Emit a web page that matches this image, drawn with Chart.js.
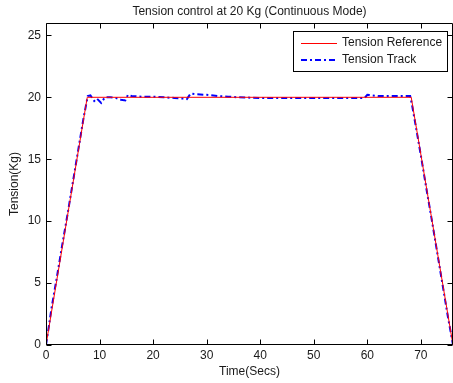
<!DOCTYPE html>
<html>
<head>
<meta charset="utf-8">
<script src="https://cdn.jsdelivr.net/npm/chart.js@4/dist/chart.umd.min.js"></script>
<style>
html,body{margin:0;padding:0;background:#fff;}
#c{display:block;}
</style>
</head>
<body>
<canvas id="c" width="453" height="383"></canvas>
<script>
const chartTitle = 'Tension control at 20 Kg (Continuous Mode)';
const xLabel = 'Time(Secs)';
const yLabel = 'Tension(Kg)';
const seriesNames = ['Tension Reference', 'Tension Track'];

const tRef = [0, 7.7, 68.2, 76];
const yRef = [0, 20, 20, 0];

const tTrack = [0, 0.5, 1, 2, 3, 4, 5, 6, 7, 7.8, 8.3, 9, 9.5, 10.3, 11, 12, 13, 14, 14.8, 15.3, 16, 18, 20, 22, 24, 25.5, 26.3, 27, 28, 30, 32, 34, 36, 40, 45, 50, 55, 59.5, 60, 62, 65, 68, 68.3, 69, 70, 71, 72, 73, 74, 75, 76];
const yTrack = [0, 1.4, 2.9, 5.4, 8.0, 10.5, 13.1, 15.7, 18.3, 20.1, 20.15, 19.7, 19.9, 19.55, 20.0, 20.0, 19.95, 19.8, 19.75, 20.2, 20.1, 20.05, 20.05, 20.0, 19.95, 19.9, 19.85, 20.3, 20.25, 20.2, 20.1, 20.05, 20.0, 19.95, 19.95, 19.95, 19.95, 19.95, 20.2, 20.1, 20.1, 20.1, 19.5, 17.8, 15.3, 12.7, 10.2, 7.6, 5.0, 2.4, 0.0];

const xTicks = [0, 10, 20, 30, 40, 50, 60, 70];
const yTicks = [0, 5, 10, 15, 20, 25];

const FONT = '"Liberation Sans", Arial, Helvetica, sans-serif';
const TEXT = '#1a1a1a';

const toPts = (xs, ys) => xs.map((x, i) => ({x: x, y: ys[i]}));

const matlabPlugin = {
  id: 'matlab',
  afterDraw(chart) {
    const {ctx, chartArea, scales} = chart;
    const {left, right, top, bottom} = chartArea;
    const L = Math.round(left) + 0.5, R = Math.round(right) - 0.5;
    const T = Math.round(top) + 0.5, B = Math.round(bottom) - 0.5;
    ctx.save();
    ctx.strokeStyle = '#000';
    ctx.lineWidth = 1;
    ctx.setLineDash([]);
    ctx.beginPath();
    ctx.rect(L, T, R - L, B - T);
    xTicks.forEach(v => {
      const p = Math.round(scales.x.getPixelForValue(v)) + 0.5;
      ctx.moveTo(p, B); ctx.lineTo(p, B - 5);
      ctx.moveTo(p, T); ctx.lineTo(p, T + 5);
    });
    yTicks.forEach(v => {
      const p = Math.round(scales.y.getPixelForValue(v)) + 0.5;
      ctx.moveTo(L, p); ctx.lineTo(L + 5, p);
      ctx.moveTo(R, p); ctx.lineTo(R - 5, p);
    });
    ctx.stroke();

    // title
    ctx.fillStyle = TEXT;
    ctx.font = '12px ' + FONT;
    ctx.textAlign = 'center';
    ctx.textBaseline = 'middle';
    ctx.fillText(chartTitle, (left + right) / 2, 12);

    // legend
    const lx = 293.5, ly = 31.5, lw = 154, lh = 40;
    ctx.fillStyle = '#fff';
    ctx.fillRect(lx, ly, lw, lh);
    ctx.strokeStyle = '#000';
    ctx.lineWidth = 1;
    ctx.strokeRect(lx, ly, lw, lh);
    const rows = [
      {y: 43, color: '#ff0000', dash: [], w: 1},
      {y: 60, color: '#0000ff', dash: [6, 3, 2, 3], w: 2}
    ];
    ctx.font = '12px ' + FONT;
    ctx.textAlign = 'left';
    rows.forEach((r, i) => {
      ctx.beginPath();
      ctx.strokeStyle = r.color;
      ctx.lineWidth = r.w;
      ctx.setLineDash(r.dash);
      const yy = r.w === 1 ? r.y + 0.5 : r.y;
      ctx.moveTo(301, yy);
      ctx.lineTo(337, yy);
      ctx.stroke();
      ctx.fillStyle = TEXT;
      ctx.fillText(seriesNames[i], 342, r.y);
    });
    ctx.restore();
  }
};

new Chart(document.getElementById('c'), {
  type: 'line',
  data: {
    datasets: [
      {
        label: seriesNames[0],
        data: toPts(tRef, yRef),
        borderColor: '#ff0000',
        borderWidth: 1,
        pointRadius: 0,
        tension: 0,
        fill: false
      },
      {
        label: seriesNames[1],
        data: toPts(tTrack, yTrack),
        borderColor: '#0000ff',
        borderWidth: 2,
        borderDash: [6, 3, 2, 3],
        pointRadius: 0,
        tension: 0,
        fill: false
      }
    ]
  },
  options: {
    responsive: false,
    animation: false,
    devicePixelRatio: 1,
    layout: {padding: {top: 23, right: 0, left: 0, bottom: 0}},
    plugins: {
      legend: {display: false},
      title: {display: false},
      tooltip: {enabled: false}
    },
    scales: {
      x: {
        type: 'linear',
        min: 0,
        max: 76,
        grid: {display: false, drawTicks: false},
        border: {display: false},
        ticks: {
          stepSize: 10,
          padding: 3,
          color: TEXT,
          font: {family: FONT, size: 12},
          maxRotation: 0
        },
        afterBuildTicks(scale) {
          scale.ticks = xTicks.map(v => ({value: v}));
        },
        afterFit(scale) { scale.height = 38; },
        title: {
          display: true,
          text: xLabel,
          color: TEXT,
          font: {family: FONT, size: 12},
          padding: {top: 0, bottom: 3.8}
        }
      },
      y: {
        type: 'linear',
        min: 0,
        max: 26,
        grid: {display: false, drawTicks: false},
        border: {display: false},
        ticks: {
          stepSize: 5,
          padding: 5,
          color: TEXT,
          font: {family: FONT, size: 12}
        },
        afterBuildTicks(scale) {
          scale.ticks = yTicks.map(v => ({value: v}));
        },
        afterFit(scale) { scale.width = 46; },
        title: {
          display: true,
          text: yLabel,
          color: TEXT,
          font: {family: FONT, size: 12},
          padding: {top: 7.8, bottom: 0}
        }
      }
    }
  },
  plugins: [matlabPlugin]
});
</script>
</body>
</html>
